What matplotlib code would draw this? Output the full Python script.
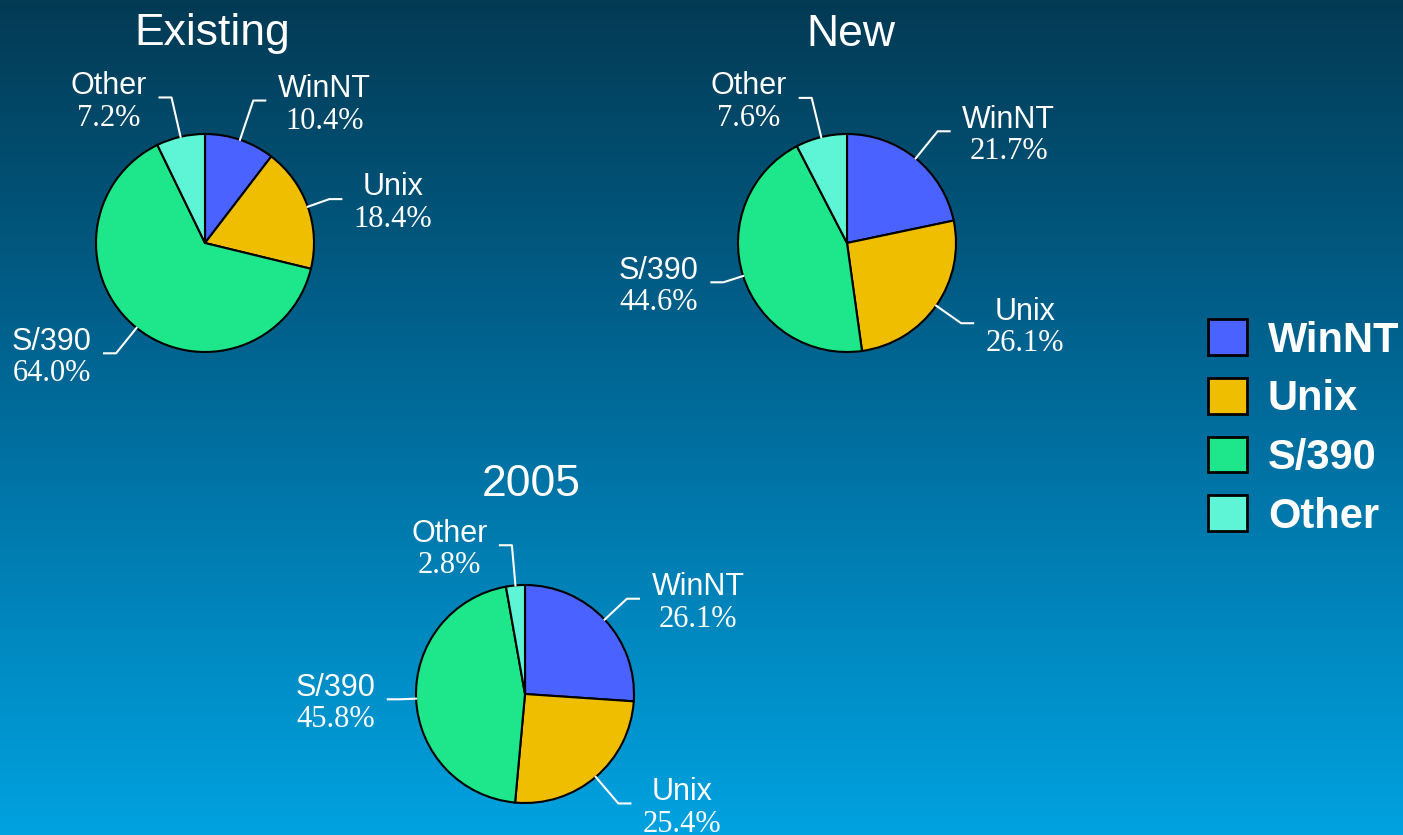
import numpy as np
import matplotlib.pyplot as plt
from matplotlib.patches import Patch
from matplotlib.offsetbox import TextArea, VPacker, AnnotationBbox
from matplotlib.colors import LinearSegmentedColormap

# data
names = ["WinNT", "Unix", "S/390", "Other"]
existing = [10.4, 18.4, 64.0, 7.2]
new = [21.7, 26.1, 44.6, 7.6]
y2005 = [26.1, 25.4, 45.8, 2.8]
titles = ["Existing", "New", "2005"]
series = [existing, new, y2005]

colors = ["#4a62ff", "#f0be00", "#1ee68a", "#5ef5d6"]

# layout (pixel coords, y from top)
W, H = 1403, 835
centers = [(205, 243), (847, 243), (525, 694)]
title_pos = [(212, 34), (851, 34), (531, 485)]
radius = 109
# radial length of leader line (in radii) per wedge
leader_k = [[1.38, 1.21, 1.30, 1.37],
            [1.32, 1.28, 1.19, 1.37],
            [1.28, 1.32, 1.15, 1.37]]

fig = plt.figure(figsize=(W / 100, H / 100), dpi=100)
ax = fig.add_axes([0, 0, 1, 1])

# background gradient
cmap = LinearSegmentedColormap.from_list(
    "bg", [(0, "#00a2e0"), (0.5, "#006c9c"), (1, "#033a54")])
grad = np.linspace(0, 1, 256).reshape(-1, 1)
ax.imshow(grad, cmap=cmap, extent=(0, W, 0, H), origin="lower",
          aspect="auto", zorder=0)

for vals, (cx, cy), title, (tx, ty), ks in zip(series, centers, titles, title_pos, leader_k):
    cy = H - cy
    wedges, _ = ax.pie(vals, colors=colors, startangle=90, counterclock=False,
                       center=(cx, cy), radius=radius, frame=True,
                       wedgeprops=dict(edgecolor="black", linewidth=1.5))
    ax.text(tx, H - ty, title, color="white", fontsize=32,
            family="Liberation Sans", ha="center", va="center")
    for w, name, v, k in zip(wedges, names, vals, ks):
        th = np.deg2rad((w.theta1 + w.theta2) / 2)
        c, s = np.cos(th), np.sin(th)
        sign = 1 if c > 0 else -1
        p0 = (cx + radius * c, cy + radius * s)
        p1 = (cx + k * radius * c, cy + k * radius * s)
        p2 = (p1[0] + sign * 0.11 * radius, p1[1])
        ax.plot([p0[0], p1[0], p2[0]], [p0[1], p1[1], p2[1]],
                color="white", lw=1.5, zorder=3)
        box = VPacker(children=[
            TextArea(name, textprops=dict(color="white", fontsize=22,
                                          family="Liberation Sans")),
            TextArea(f"{v:.1f}%", textprops=dict(color="white", fontsize=22,
                                                 family="Liberation Serif"))],
            align="center", pad=0, sep=2)
        ab = AnnotationBbox(box, p2, xybox=(sign * 9, -3), xycoords="data",
                            boxcoords="offset points",
                            box_alignment=(0 if sign > 0 else 1, 0.5),
                            frameon=False, pad=0)
        ax.add_artist(ab)

ax.set_xlim(0, W)
ax.set_ylim(0, H)
ax.set_aspect("equal")
ax.axis("off")

handles = [Patch(facecolor=col, edgecolor="black", linewidth=2) for col in colors]
leg = ax.legend(handles, names, loc="center left", bbox_to_anchor=(1208 / W, 1 - 428 / H),
                frameon=False, prop=dict(family="Liberation Sans", weight="bold", size=30),
                handlelength=0.94, handleheight=0.94, handletextpad=0.5,
                labelspacing=0.42, borderpad=0, borderaxespad=0)
for t in leg.get_texts():
    t.set_color("white")

fig.savefig("out.png", dpi=100)
